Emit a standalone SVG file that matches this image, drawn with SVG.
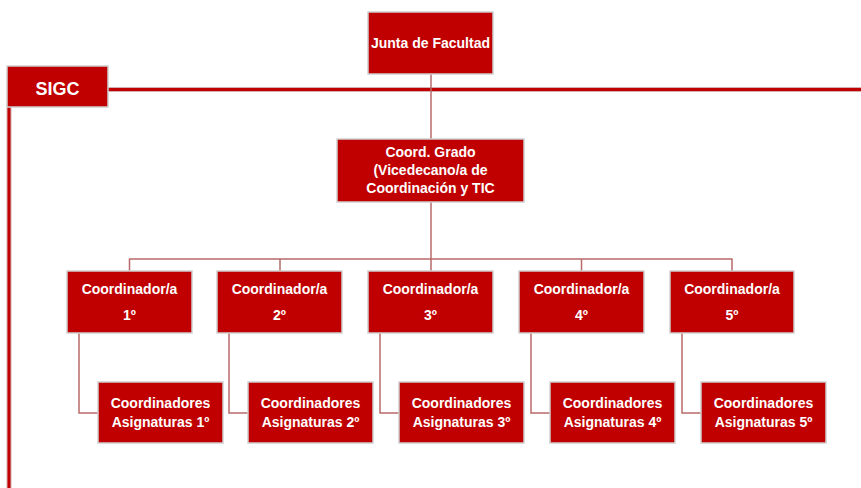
<svg xmlns="http://www.w3.org/2000/svg" width="861" height="488" viewBox="0 0 861 488">
<style>
.box{fill:#c00000;stroke:#cfcfcf;stroke-width:1.5}
.t{font-family:"Liberation Sans",Arial,sans-serif;font-weight:bold;font-size:14px;fill:#fff;text-anchor:middle}
.c{fill:none;stroke:#b86a6a;stroke-width:1.5}
.main{fill:none;stroke:#c00000;stroke-width:3}
.mainedge{fill:none;stroke:#d4b0b0;stroke-width:5}
</style>
<rect width="861" height="488" fill="#fff"/>
<g id="connectors">
<line class="mainedge" x1="108" y1="89.5" x2="861" y2="89.5"/>
<line class="main" x1="108" y1="89.5" x2="861" y2="89.5"/>
<line class="mainedge" x1="9" y1="107" x2="9" y2="488"/>
<line class="main" x1="9" y1="107" x2="9" y2="488"/>
<path class="c" d="M431 74V139"/>
<path class="c" d="M431 202V259"/>
<path class="c" d="M129.5 271V259H732V271"/>
<path class="c" d="M280 259V271M431 259V271M581.5 259V271"/>
<path class="c" d="M79 333V413H98"/>
<path class="c" d="M229 333V413H248"/>
<path class="c" d="M380 333V413H399"/>
<path class="c" d="M531 333V413H550"/>
<path class="c" d="M682 333V413H701"/>
</g>
<g id="junta">
<rect class="box" x="368" y="12" width="125" height="62"/>
<text class="t" x="430.5" y="48">Junta de Facultad</text>
</g>
<g id="sigc">
<rect class="box" x="7" y="66" width="101" height="41"/>
<text class="t" x="57.5" y="95" style="font-size:18px">SIGC</text>
</g>
<g id="coord-grado">
<rect class="box" x="337" y="139" width="187" height="63"/>
<text class="t" x="430.5" y="157">Coord. Grado</text>
<text class="t" x="430.5" y="175">(Vicedecano/a de</text>
<text class="t" x="430.5" y="193">Coordinación y TIC</text>
</g>
<g id="coord1">
<rect class="box" x="67" y="271" width="125" height="62"/>
<text class="t" x="129.5" y="294">Coordinador/a</text>
<text class="t" x="129.5" y="320">1º</text>
</g>
<g id="coord2">
<rect class="box" x="217" y="271" width="125" height="62"/>
<text class="t" x="279.5" y="294">Coordinador/a</text>
<text class="t" x="279.5" y="320">2º</text>
</g>
<g id="coord3">
<rect class="box" x="368" y="271" width="125" height="62"/>
<text class="t" x="430.5" y="294">Coordinador/a</text>
<text class="t" x="430.5" y="320">3º</text>
</g>
<g id="coord4">
<rect class="box" x="519" y="271" width="125" height="62"/>
<text class="t" x="581.5" y="294">Coordinador/a</text>
<text class="t" x="581.5" y="320">4º</text>
</g>
<g id="coord5">
<rect class="box" x="670" y="271" width="124" height="62"/>
<text class="t" x="732" y="294">Coordinador/a</text>
<text class="t" x="732" y="320">5º</text>
</g>
<g id="asig1">
<rect class="box" x="98" y="382" width="125" height="61"/>
<text class="t" x="160.5" y="408">Coordinadores</text>
<text class="t" x="160.5" y="427">Asignaturas 1º</text>
</g>
<g id="asig2">
<rect class="box" x="248" y="382" width="125" height="61"/>
<text class="t" x="310.5" y="408">Coordinadores</text>
<text class="t" x="310.5" y="427">Asignaturas 2º</text>
</g>
<g id="asig3">
<rect class="box" x="399" y="382" width="125" height="61"/>
<text class="t" x="461.5" y="408">Coordinadores</text>
<text class="t" x="461.5" y="427">Asignaturas 3º</text>
</g>
<g id="asig4">
<rect class="box" x="550" y="382" width="125" height="61"/>
<text class="t" x="612.5" y="408">Coordinadores</text>
<text class="t" x="612.5" y="427">Asignaturas 4º</text>
</g>
<g id="asig5">
<rect class="box" x="701" y="382" width="125" height="61"/>
<text class="t" x="763.5" y="408">Coordinadores</text>
<text class="t" x="763.5" y="427">Asignaturas 5º</text>
</g>
</svg>
